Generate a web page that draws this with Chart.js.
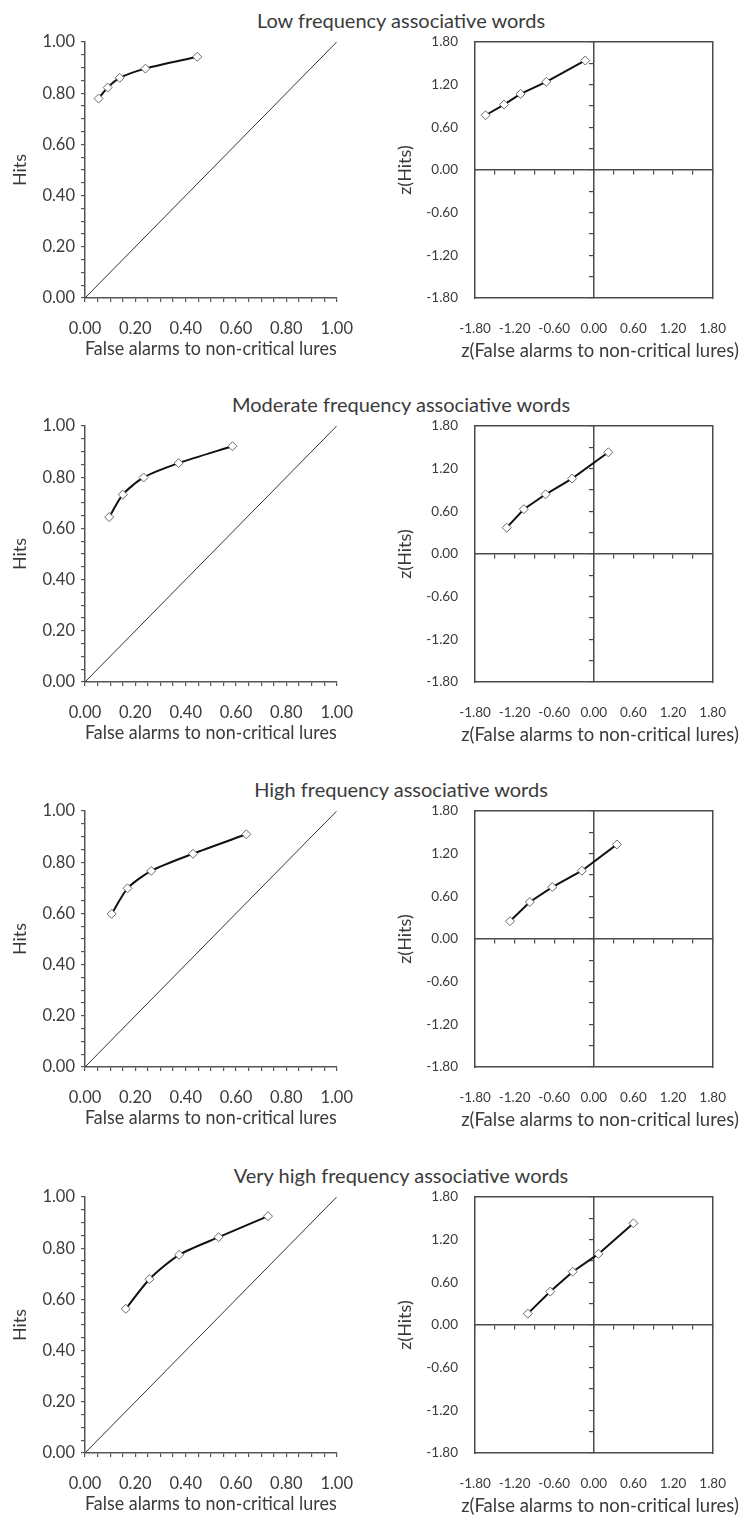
<!DOCTYPE html>
<html>
<head>
<meta charset="utf-8">
<title>ROC and zROC curves</title>
<script src="https://cdn.jsdelivr.net/npm/chart.js@4.4.1/dist/chart.umd.min.js"></script>
<style>
  body { margin: 0; background: #fff; }
  #page { position: relative; width: 749px; height: 1526px; overflow: hidden; font-family: Lato, sans-serif; color: #3b3b3b; }
  .row-title { position: absolute; left: 151px; width: 500px; text-align: center; font-size: 20px; line-height: 24px; white-space: nowrap; }
  .z-title { position: absolute; left: 450px; width: 300px; text-align: center; font-size: 18.5px; line-height: 22px; white-space: nowrap; }
  canvas { position: absolute; }
</style>
</head>
<body>
<div id="page"></div>
<script>
// Hit and false-alarm rates per confidence criterion, one set per word condition
const conditions = [
  'Low frequency associative words',
  'Moderate frequency associative words',
  'High frequency associative words',
  'Very high frequency associative words',
];

const lowFA = [0.054, 0.090, 0.138, 0.240, 0.446];
const lowHits = [0.779, 0.822, 0.860, 0.896, 0.942];
const lowZFA = [-1.64, -1.36, -1.11, -0.72, -0.13];
const lowZHits = [0.77, 0.92, 1.07, 1.24, 1.54];

const modFA = [0.096, 0.150, 0.233, 0.372, 0.586];
const modHits = [0.644, 0.732, 0.799, 0.855, 0.921];
const modZFA = [-1.32, -1.06, -0.73, -0.33, 0.22];
const modZHits = [0.37, 0.63, 0.84, 1.06, 1.43];

const highFA = [0.106, 0.169, 0.263, 0.429, 0.641];
const highHits = [0.598, 0.698, 0.766, 0.833, 0.909];
const highZFA = [-1.27, -0.97, -0.63, -0.18, 0.35];
const highZHits = [0.25, 0.52, 0.73, 0.96, 1.33];

const vhighFA = [0.162, 0.256, 0.374, 0.531, 0.727];
const vhighHits = [0.563, 0.679, 0.774, 0.843, 0.925];
const vhighZFA = [-1.00, -0.66, -0.32, 0.07, 0.60];
const vhighZHits = [0.16, 0.47, 0.75, 1.00, 1.43];

const probTicks = [0, 0.2, 0.4, 0.6, 0.8, 1.0];
const zTicks = [-1.8, -1.2, -0.6, 0, 0.6, 1.2, 1.8];

const rows = [
  [lowFA, lowHits, lowZFA, lowZHits],
  [modFA, modHits, modZFA, modZHits],
  [highFA, highHits, highZFA, highZHits],
  [vhighFA, vhighHits, vhighZFA, vhighZHits],
];

// layout
const rowY = [0, 384, 769, 1155];
const textColor = '#3b3b3b';
const axisColor = '#555';
const boxColor = '#4a4a4a';
const family = 'Lato, sans-serif';

function pickLabel(list) {
  return (v) => {
    const t = list.find((t) => Math.abs(t - v) < 1e-6);
    return t === undefined ? '' : t.toFixed(2);
  };
}

function points(xs, ys) {
  return xs.map((x, i) => ({ x, y: ys[i] }));
}

const markerStyle = {
  pointStyle: 'rectRot',
  pointRadius: 4.5,
  pointBackgroundColor: '#fff',
  pointBorderColor: '#6a6a6a',
  pointBorderWidth: 1,
};

function rocChart(canvas, fa, hits) {
  return new Chart(canvas, {
    type: 'scatter',
    data: {
      datasets: [
        {
          data: points(fa, hits),
          showLine: true,
          borderColor: '#111',
          borderWidth: 2,
          tension: 0.25,
          ...markerStyle,
        },
        {
          data: [{ x: 0, y: 0 }, { x: 1, y: 1 }],
          showLine: true,
          borderColor: '#333',
          borderWidth: 1,
          pointRadius: 0,
        },
      ],
    },
    options: {
      responsive: false,
      animation: false,
      layout: { autoPadding: false, padding: { top: 42, right: 25, left: 0, bottom: 0 } },
      plugins: { legend: { display: false }, tooltip: { enabled: false } },
      scales: {
        x: {
          min: 0, max: 1,
          afterFit: (s) => { s.height = 72; },
          ticks: { stepSize: 0.05, autoSkip: false, maxRotation: 0, minRotation: 0, padding: 17,
                   callback: pickLabel(probTicks), color: textColor, font: { family, size: 16.5 } },
          grid: { drawOnChartArea: false, tickLength: 4, color: axisColor, lineWidth: 1.2 },
          border: { color: axisColor, width: 1.5 },
          title: { display: true, text: 'False alarms to non-critical lures', color: textColor,
                   font: { family, size: 18.5 }, padding: { top: 0, bottom: 10 } },
        },
        y: {
          min: 0, max: 1,
          afterFit: (s) => { s.width = 85; },
          ticks: { stepSize: 0.05, autoSkip: false, padding: 6,
                   callback: pickLabel(probTicks), color: textColor, font: { family, size: 16.5 } },
          grid: { drawOnChartArea: false, tickLength: 4, color: axisColor, lineWidth: 1.2 },
          border: { color: axisColor, width: 1.5 },
          title: { display: true, text: 'Hits', color: textColor,
                   font: { family, size: 18 }, padding: { top: 9, bottom: 0 } },
        },
      },
    },
  });
}

function edgeScale(axis, position) {
  return {
    axis, position, min: -1.8, max: 1.8,
    afterFit: (s) => { if (axis === 'x') s.height = 0; else s.width = 0; },
    ticks: { display: false },
    grid: { display: false, drawTicks: false },
    border: { color: boxColor, width: 1.5 },
  };
}

function crossScale(axis, position) {
  return {
    axis, position, min: -1.8, max: 1.8,
    ticks: { display: false, stepSize: 0.3 },
    grid: { drawOnChartArea: false, tickLength: 4, color: boxColor, lineWidth: 1.2 },
    border: { color: boxColor, width: 1.5 },
  };
}

function zrocChart(canvas, zfa, zhits) {
  return new Chart(canvas, {
    type: 'scatter',
    data: {
      datasets: [{
        data: points(zfa, zhits),
        xAxisID: 'x',
        yAxisID: 'y',
        showLine: true,
        borderColor: '#111',
        borderWidth: 2,
        ...markerStyle,
      }],
    },
    options: {
      responsive: false,
      animation: false,
      layout: { autoPadding: false, padding: { top: 42, right: 20, left: 0, bottom: 0 } },
      plugins: { legend: { display: false }, tooltip: { enabled: false } },
      scales: {
        x: {
          position: 'bottom', min: -1.8, max: 1.8,
          afterFit: (s) => { s.height = 72; },
          ticks: { stepSize: 0.6, autoSkip: false, maxRotation: 0, minRotation: 0, padding: 23,
                   callback: pickLabel(zTicks), color: textColor, font: { family, size: 13.5 } },
          grid: { display: false, drawTicks: false },
          border: { color: boxColor, width: 1.5 },
        },
        y: {
          position: 'left', min: -1.8, max: 1.8,
          afterFit: (s) => { s.width = 105; },
          ticks: { stepSize: 0.6, autoSkip: false, padding: 17,
                   callback: pickLabel(zTicks), color: textColor, font: { family, size: 13.5 } },
          grid: { display: false, drawTicks: false },
          border: { color: boxColor, width: 1.5 },
          title: { display: true, text: 'z(Hits)', color: textColor,
                   font: { family, size: 18 }, padding: { top: 24, bottom: 0 } },
        },
        xTop: edgeScale('x', 'top'),
        yRight: edgeScale('y', 'right'),
        xMid: crossScale('x', { y: 0 }),
        yMid: crossScale('y', { x: 0 }),
      },
    },
  });
}

const page = document.getElementById('page');
rows.forEach(([fa, hits, zfa, zhits], i) => {
  const title = document.createElement('div');
  title.className = 'row-title';
  title.style.top = (rowY[i] + 8) + 'px';
  title.textContent = conditions[i];
  page.appendChild(title);

  const left = document.createElement('canvas');
  left.width = 370; left.height = 370;
  left.style.left = '0px'; left.style.top = rowY[i] + 'px';
  page.appendChild(left);

  const right = document.createElement('canvas');
  right.width = 379; right.height = 370;
  right.style.left = '370px'; right.style.top = rowY[i] + 'px';
  page.appendChild(right);

  // z-axis caption runs wider than the plot box, so it sits outside the canvas scale
  const zTitle = document.createElement('div');
  zTitle.className = 'z-title';
  zTitle.style.top = (rowY[i] + 339) + 'px';
  zTitle.textContent = 'z(False alarms to non-critical lures)';
  page.appendChild(zTitle);

  rocChart(left, fa, hits);
  zrocChart(right, zfa, zhits);
});
</script>
</body>
</html>
